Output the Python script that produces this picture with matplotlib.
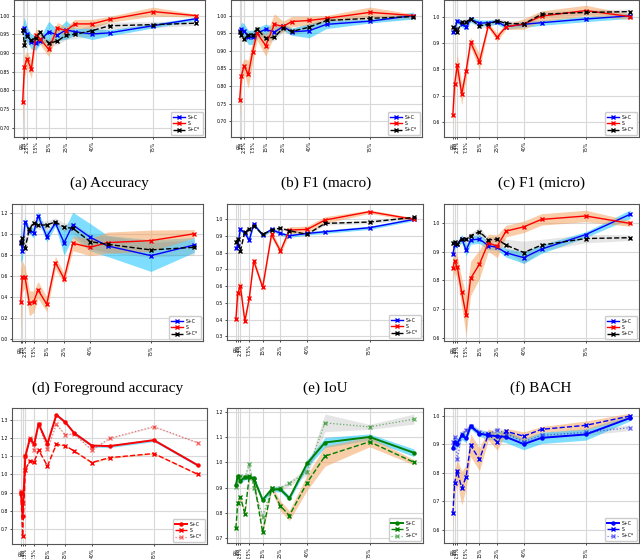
import numpy as np
import matplotlib
matplotlib.use('Agg')
import matplotlib.pyplot as plt

# labelled fractions (%) and the ticks shown
x_pct = [0, 1, 2.5, 5, 7.5, 10, 15, 20, 25, 30, 40, 50, 75, 100]
tick_pos = [0, 1, 2.5, 7.5, 15, 25, 40, 75]
tick_lab = ['0%', '1%', '2.5%', '7.5%', '15%', '25%', '40%', '75%']
labels = ['S+C', 'S', 'S+C*']

# (a) Accuracy
acc_sc = [0.962, 0.966, 0.950, 0.930, 0.928, 0.933, 0.957, 0.948, 0.962, 0.957, 0.951, 0.954, 0.973, 0.992]
acc_s = [0.770, 0.863, 0.884, 0.857, 0.948, 0.938, 0.910, 0.967, 0.960, 0.978, 0.978, 0.990, 1.011, 1.000]
acc_scs = [0.962, 0.922, 0.945, 0.935, 0.940, 0.955, 0.926, 0.932, 0.948, 0.950, 0.960, 0.973, 0.976, 0.980]
acc_sc_sd = [0.008, 0.03, 0.02, 0.02, 0.02, 0.01, 0.028, 0.015, 0.025, 0.01, 0.015, 0.008, 0.006, 0.004]
acc_s_sd = [0.065, 0.03, 0.02, 0.025, 0.02, 0.015, 0.02, 0.015, 0.01, 0.012, 0.012, 0.008, 0.012, 0.004]
acc_scs_sd = [0.005, 0.012, 0.01, 0.01, 0.01, 0.008, 0.01, 0.01, 0.012, 0.012, 0.015, 0.01, 0.008, 0.006]

# (b) F1 (macro)
f1ma_sc = [0.955, 0.961, 0.957, 0.938, 0.938, 0.950, 0.961, 0.953, 0.969, 0.954, 0.957, 0.975, 0.984, 1.000]
f1ma_s = [0.762, 0.830, 0.857, 0.834, 0.898, 0.950, 0.915, 0.975, 0.969, 0.983, 0.986, 0.992, 1.009, 1.000]
f1ma_scs = [0.953, 0.944, 0.933, 0.946, 0.946, 0.963, 0.935, 0.939, 0.964, 0.955, 0.967, 0.986, 0.992, 0.997]
f1ma_sc_sd = [0.01, 0.02, 0.02, 0.02, 0.02, 0.015, 0.015, 0.015, 0.01, 0.01, 0.02, 0.012, 0.005, 0.01]
f1ma_s_sd = [0.05, 0.03, 0.02, 0.04, 0.03, 0.02, 0.03, 0.03, 0.015, 0.015, 0.012, 0.008, 0.015, 0.004]
f1ma_scs_sd = [0.008, 0.01, 0.01, 0.01, 0.01, 0.01, 0.01, 0.01, 0.01, 0.01, 0.01, 0.01, 0.008, 0.006]

# (c) F1 (micro)
f1mi_sc = [0.941, 0.950, 0.985, 0.972, 0.962, 0.990, 0.975, 0.977, 0.981, 0.962, 0.971, 0.977, 0.991, 1.003]
f1mi_s = [0.629, 0.744, 0.816, 0.706, 0.795, 0.903, 0.829, 0.966, 0.922, 0.962, 0.972, 1.002, 1.023, 1.000]
f1mi_scs = [0.962, 0.954, 0.943, 0.981, 0.981, 0.990, 0.965, 0.971, 0.984, 0.975, 0.972, 1.009, 1.016, 1.019]
f1mi_sc_sd = [0.012, 0.01, 0.01, 0.012, 0.012, 0.01, 0.012, 0.01, 0.01, 0.01, 0.012, 0.01, 0.01, 0.01]
f1mi_s_sd = [0.05, 0.04, 0.04, 0.04, 0.03, 0.02, 0.03, 0.01, 0.015, 0.01, 0.02, 0.02, 0.02, 0.01]
f1mi_scs_sd = [0.01, 0.01, 0.01, 0.01, 0.01, 0.01, 0.01, 0.01, 0.01, 0.01, 0.01, 0.01, 0.01, 0.01]

# (d) Foreground accuracy
fg_sc = [0.926, 0.840, 1.115, 1.030, 1.011, 1.172, 0.973, 1.100, 0.916, 1.084, 0.967, 0.885, 0.793, 0.894]
fg_s = [0.357, 0.594, 0.588, 0.341, 0.357, 0.468, 0.332, 0.727, 0.575, 0.910, 0.872, 0.916, 0.935, 1.000]
fg_scs = [0.916, 0.964, 0.863, 1.043, 1.106, 1.081, 1.084, 1.112, 1.062, 1.052, 0.926, 0.900, 0.847, 0.872]
fg_sc_sd = [0.2, 0.08, 0.04, 0.03, 0.05, 0.04, 0.05, 0.03, 0.12, 0.12, 0.13, 0.1, 0.15, 0.07]
fg_s_sd = [0.3, 0.15, 0.1, 0.12, 0.1, 0.08, 0.07, 0.06, 0.05, 0.07, 0.08, 0.1, 0.1, 0.04]
fg_scs_sd = [0.05, 0.05, 0.04, 0.04, 0.04, 0.04, 0.04, 0.04, 0.04, 0.05, 0.07, 0.08, 0.07, 0.07]

# (e) IoU
iou_sc = [0.826, 0.842, 0.942, 0.916, 0.876, 0.972, 0.906, 0.940, 0.916, 0.902, 0.916, 0.926, 0.950, 1.000]
iou_s = [0.401, 0.557, 0.601, 0.391, 0.527, 0.752, 0.593, 0.910, 0.810, 0.936, 0.940, 0.996, 1.046, 1.000]
iou_scs = [0.866, 0.880, 0.810, 0.926, 0.942, 0.962, 0.910, 0.936, 0.948, 0.932, 0.910, 0.976, 0.984, 1.012]
iou_sc_sd = [0.015, 0.015, 0.01, 0.01, 0.015, 0.01, 0.01, 0.01, 0.01, 0.01, 0.01, 0.01, 0.01, 0.008]
iou_s_sd = [0.05, 0.04, 0.04, 0.02, 0.02, 0.02, 0.02, 0.02, 0.02, 0.02, 0.02, 0.02, 0.01, 0.01]
iou_scs_sd = [0.01, 0.01, 0.01, 0.01, 0.01, 0.01, 0.01, 0.01, 0.01, 0.01, 0.01, 0.01, 0.01, 0.01]

# (f) BACH
bach_sc = [0.892, 0.924, 0.927, 0.947, 0.906, 0.942, 0.945, 0.922, 0.916, 0.897, 0.880, 0.910, 0.961, 1.032]
bach_s = [0.844, 0.869, 0.846, 0.758, 0.678, 0.807, 0.857, 0.932, 0.920, 0.973, 0.988, 1.014, 1.026, 1.000]
bach_scs = [0.930, 0.936, 0.927, 0.947, 0.944, 0.957, 0.971, 0.942, 0.945, 0.924, 0.898, 0.924, 0.947, 0.950]
bach_sc_sd = [0.01, 0.01, 0.01, 0.015, 0.02, 0.015, 0.015, 0.015, 0.01, 0.015, 0.02, 0.015, 0.01, 0.015]
bach_s_sd = [0.05, 0.04, 0.04, 0.05, 0.07, 0.06, 0.05, 0.03, 0.04, 0.02, 0.02, 0.02, 0.02, 0.01]
bach_scs_sd = [0.01, 0.01, 0.01, 0.01, 0.01, 0.01, 0.015, 0.01, 0.01, 0.02, 0.04, 0.02, 0.015, 0.01]

# third row (red / green / blue panels)
r3a_sc = [0.900, 0.770, 1.100, 1.195, 1.170, 1.280, 1.170, 1.330, 1.290, 1.230, 1.160, 1.157, 1.190, 1.050]
r3a_s = [0.900, 0.660, 1.025, 1.075, 1.070, 1.135, 1.047, 1.167, 1.160, 1.130, 1.066, 1.093, 1.116, 1.000]
r3a_scs = [0.910, 0.840, 1.100, 1.200, 1.135, 1.280, 1.140, 1.278, 1.220, 1.225, 1.135, 1.200, 1.265, 1.175]
r3a_sc_sd = [0.008] * 14
r3a_s_sd = [0.004] * 14
r3a_scs_sd = [0.004] * 14

r3b_sc = [0.910, 0.946, 0.926, 0.941, 0.941, 0.937, 0.851, 0.893, 0.893, 0.858, 0.996, 1.079, 1.101, 1.038]
r3b_s = [0.739, 0.837, 0.863, 0.796, 0.946, 0.930, 0.722, 0.897, 0.827, 0.789, 0.920, 1.025, 1.082, 1.000]
r3b_scs = [0.904, 0.941, 0.946, 0.941, 0.993, 0.897, 0.785, 0.897, 0.897, 0.917, 0.963, 1.157, 1.141, 1.172]
r3b_sc_sd = [0.01, 0.01, 0.01, 0.01, 0.01, 0.01, 0.01, 0.01, 0.01, 0.01, 0.015, 0.02, 0.012, 0.015]
r3b_s_sd = [0.01, 0.01, 0.01, 0.01, 0.01, 0.01, 0.01, 0.01, 0.02, 0.02, 0.03, 0.04, 0.02, 0.01]
r3b_scs_sd = [0.01, 0.01, 0.01, 0.01, 0.01, 0.01, 0.01, 0.01, 0.01, 0.01, 0.015, 0.035, 0.01, 0.02]

r3c_sc = [0.888, 0.909, 0.903, 0.932, 0.921, 0.964, 0.938, 0.932, 0.929, 0.926, 0.901, 0.923, 0.935, 0.993]
r3c_s = [0.658, 0.765, 0.806, 0.746, 0.786, 0.897, 0.847, 0.935, 0.909, 0.946, 0.929, 0.953, 0.967, 1.000]
r3c_scs = [0.909, 0.926, 0.847, 0.938, 0.950, 0.964, 0.944, 0.936, 0.952, 0.938, 0.909, 0.932, 0.942, 0.959]
r3c_sc_sd = [0.015, 0.015, 0.015, 0.015, 0.015, 0.01, 0.01, 0.015, 0.015, 0.02, 0.02, 0.02, 0.02, 0.01]
r3c_s_sd = [0.06, 0.04, 0.04, 0.06, 0.04, 0.04, 0.04, 0.02, 0.03, 0.01, 0.015, 0.01, 0.015, 0.01]
r3c_scs_sd = [0.01, 0.01, 0.01, 0.01, 0.01, 0.01, 0.01, 0.01, 0.01, 0.01, 0.01, 0.01, 0.01, 0.01]

W, H = 640, 559
fig = plt.figure(figsize=(W / 100, H / 100), dpi=100)


def box(l, t, r, b):
    return [l / W, 1 - b / H, (r - l) / W, (b - t) / H]


def panel(rect, series, sds, styles, ylim, yticks, fmt):
    ax = fig.add_axes(rect)
    x = np.array(x_pct)
    band_cols = [('deepskyblue', 0.5), ('sandybrown', 0.55), ('gray', 0.2)]
    for (c, a), y, sd in zip(band_cols, series, sds):
        y = np.array(y)
        sd = np.array(sd)
        ax.fill_between(x, y - sd, y + sd, color=c, alpha=a, lw=0)
    for y, st, lab in zip(series, styles, labels):
        ax.plot(x, y, label=lab, **st)
    ax.set_xlim(-5, 105)
    ax.set_ylim(*ylim)
    ax.set_xticks(tick_pos)
    ax.set_xticklabels(tick_lab, rotation=90, fontsize=3.3)
    ax.set_yticks(yticks)
    ax.set_yticklabels([fmt % v for v in yticks], fontsize=3.3)
    ax.tick_params(length=1.5, width=0.5, pad=1.5)
    ax.grid(True, color='#d8d8d8', lw=0.8)
    ax.set_axisbelow(True)
    for s in ax.spines.values():
        s.set_color('#555555')
        s.set_linewidth(0.8)
    ax.legend(loc='lower right', fontsize=3.3, handlelength=2.5, borderpad=0.5,
              labelspacing=0.3, framealpha=1, edgecolor='#cccccc')
    return ax


top_styles = [dict(color='b', marker='x', ms=2.5, lw=1),
              dict(color='r', marker='x', ms=2.5, lw=1),
              dict(color='k', marker='x', ms=2.5, lw=1, ls='--')]


def bottom_styles(c):
    return [dict(color=c, marker='o', ms=2.2, lw=1.4),
            dict(color=c, marker='x', ms=2.5, lw=1, ls='--'),
            dict(color=c, marker='x', ms=2.5, lw=0.9, ls=':', alpha=0.55)]


# row 1
panel(box(14, 0, 205, 137), [acc_sc, acc_s, acc_scs], [acc_sc_sd, acc_s_sd, acc_scs_sd],
      top_styles, (0.675, 1.042), np.arange(0.70, 1.001, 0.05), '%.2f')
panel(box(231, 0, 422, 137), [f1ma_sc, f1ma_s, f1ma_scs], [f1ma_sc_sd, f1ma_s_sd, f1ma_scs_sd],
      top_styles, (0.656, 1.044), np.arange(0.70, 1.001, 0.05), '%.2f')
panel(box(444, 0, 639, 137), [f1mi_sc, f1mi_s, f1mi_scs], [f1mi_sc_sd, f1mi_s_sd, f1mi_scs_sd],
      top_styles, (0.544, 1.063), np.arange(0.6, 1.01, 0.1), '%.1f')

# row 2
panel(box(12, 204, 203, 341), [fg_sc, fg_s, fg_scs], [fg_sc_sd, fg_s_sd, fg_scs_sd],
      top_styles, (-0.016, 1.282), np.arange(0.0, 1.21, 0.2), '%.1f')
panel(box(227, 204, 423, 340), [iou_sc, iou_s, iou_scs], [iou_sc_sd, iou_s_sd, iou_scs_sd],
      top_styles, (0.278, 1.092), np.arange(0.3, 1.01, 0.1), '%.1f')
panel(box(444, 204, 639, 341), [bach_sc, bach_s, bach_scs], [bach_sc_sd, bach_s_sd, bach_scs_sd],
      top_styles, (0.588, 1.068), np.arange(0.6, 1.01, 0.1), '%.1f')

# row 3
panel(box(12, 408, 207, 544), [r3a_sc, r3a_s, r3a_scs], [r3a_sc_sd, r3a_s_sd, r3a_scs_sd],
      bottom_styles('r'), (0.615, 1.368), np.arange(0.7, 1.31, 0.1), '%.1f')
panel(box(227, 408, 423, 543), [r3b_sc, r3b_s, r3b_scs], [r3b_sc_sd, r3b_s_sd, r3b_scs_sd],
      bottom_styles('g'), (0.68, 1.216), np.arange(0.7, 1.21, 0.1), '%.1f')
panel(box(444, 408, 639, 543), [r3c_sc, r3c_s, r3c_scs], [r3c_sc_sd, r3c_s_sd, r3c_scs_sd],
      bottom_styles('b'), (0.553, 1.028), np.arange(0.6, 1.01, 0.1), '%.1f')

# captions
cap_font = dict(family='Liberation Serif', fontsize=11, ha='center', va='center')
fig.text(109 / W, 1 - 183 / H, '(a) Accuracy', **cap_font)
fig.text(326 / W, 1 - 183 / H, '(b) F1 (macro)', **cap_font)
fig.text(541 / W, 1 - 183 / H, '(c) F1 (micro)', **cap_font)
fig.text(108 / W, 1 - 388 / H, '(d) Foreground accuracy', **cap_font)
fig.text(325 / W, 1 - 388 / H, '(e) IoU', **cap_font)
fig.text(541 / W, 1 - 388 / H, '(f) BACH', **cap_font)

fig.savefig('out.png', dpi=100)
